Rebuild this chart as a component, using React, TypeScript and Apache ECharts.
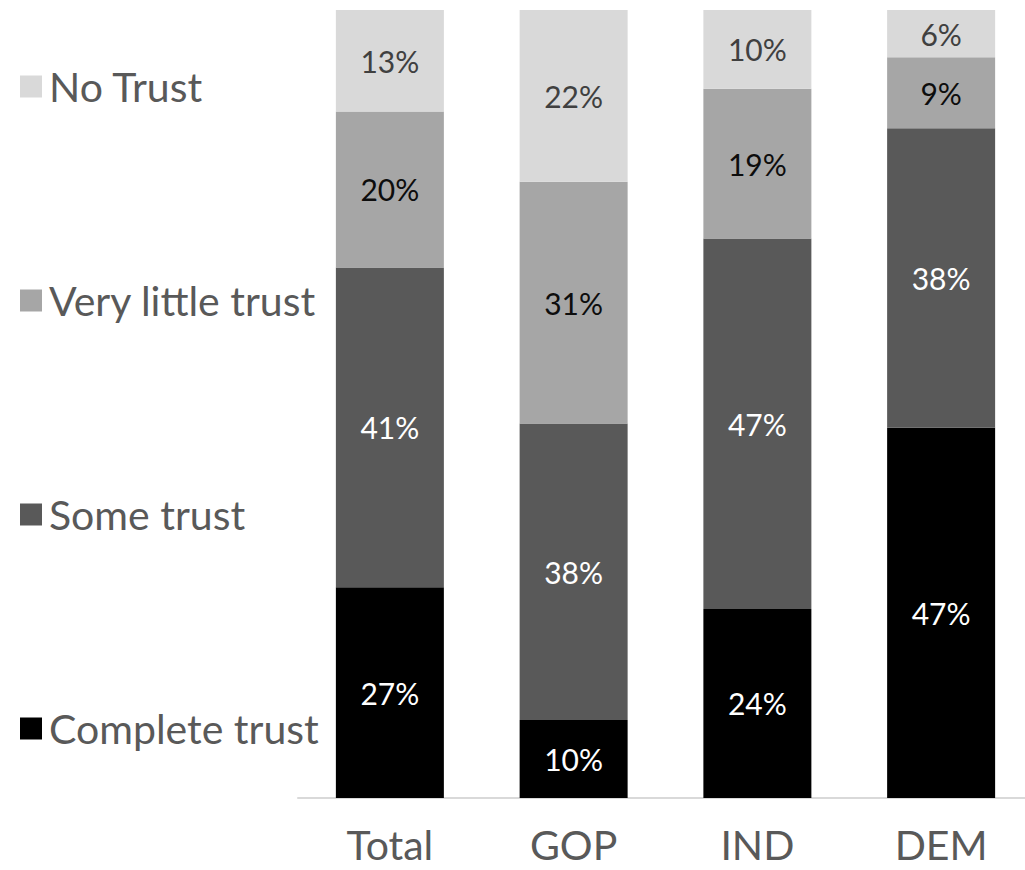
import React, { useEffect, useRef } from "react";
import * as echarts from "echarts";

const categories = ["Total", "GOP", "IND", "DEM"];
const seriesNames = ["Complete trust", "Some trust", "Very little trust", "No Trust"];
const completeTrust = [27, 10, 24, 47];
const someTrust = [41, 38, 47, 38];
const veryLittleTrust = [20, 31, 19, 9];
const noTrust = [13, 22, 10, 6];
const colors = ["#000000", "#595959", "#a6a6a6", "#d9d9d9"];
const labelColors = ["#ffffff", "#ffffff", "#0d0d0d", "#404040"];

const FONT = "Lato, 'Open Sans', sans-serif";

export default function App() {
  const ref = useRef<HTMLDivElement>(null);
  useEffect(() => {
    document.body.style.margin = "0";
    document.body.style.overflow = "hidden";
    if (!ref.current) return;
    const chart = echarts.init(ref.current, undefined, { renderer: "svg" });
    const raw = [completeTrust, someTrust, veryLittleTrust, noTrust];
    const totals = categories.map((_, i) => raw.reduce((s, arr) => s + arr[i], 0));
    chart.setOption({
      animation: false,
      textStyle: { fontFamily: FONT },
      grid: { left: 298, right: 7, top: 10, bottom: 72 },
      legend: {
        orient: "vertical",
        left: 15,
        top: 61,
        itemWidth: 22,
        itemHeight: 22,
        itemGap: 173,
        icon: "rect",
        data: ["No Trust", "Very little trust", "Some trust", "Complete trust"],
        textStyle: { fontSize: 41, color: "#595959", fontFamily: FONT, padding: [0, 0, 0, 2] },
      },
      xAxis: {
        type: "category",
        data: categories,
        axisLine: { show: true, lineStyle: { color: "#d9d9d9", width: 2 } },
        axisTick: { show: false },
        axisLabel: { fontSize: 41, lineHeight: 38, color: "#595959", margin: 27, fontFamily: FONT },
      },
      yAxis: { type: "value", min: 0, max: 100, show: false, splitLine: { show: false } },
      series: seriesNames.map((name, si) => ({
        name,
        type: "bar",
        stack: "a",
        barWidth: 108,
        itemStyle: { color: colors[si] },
        label: {
          show: true,
          position: "inside",
          fontSize: 30,
          color: labelColors[si],
          fontFamily: FONT,
          formatter: (p: any) => raw[si][p.dataIndex] + "%",
        },
        data: raw[si].map((v, i) => (v / totals[i]) * 100),
      })),
    });
    return () => chart.dispose();
  }, []);
  return <div ref={ref} style={{ width: 1040, height: 870 }} />;
}
